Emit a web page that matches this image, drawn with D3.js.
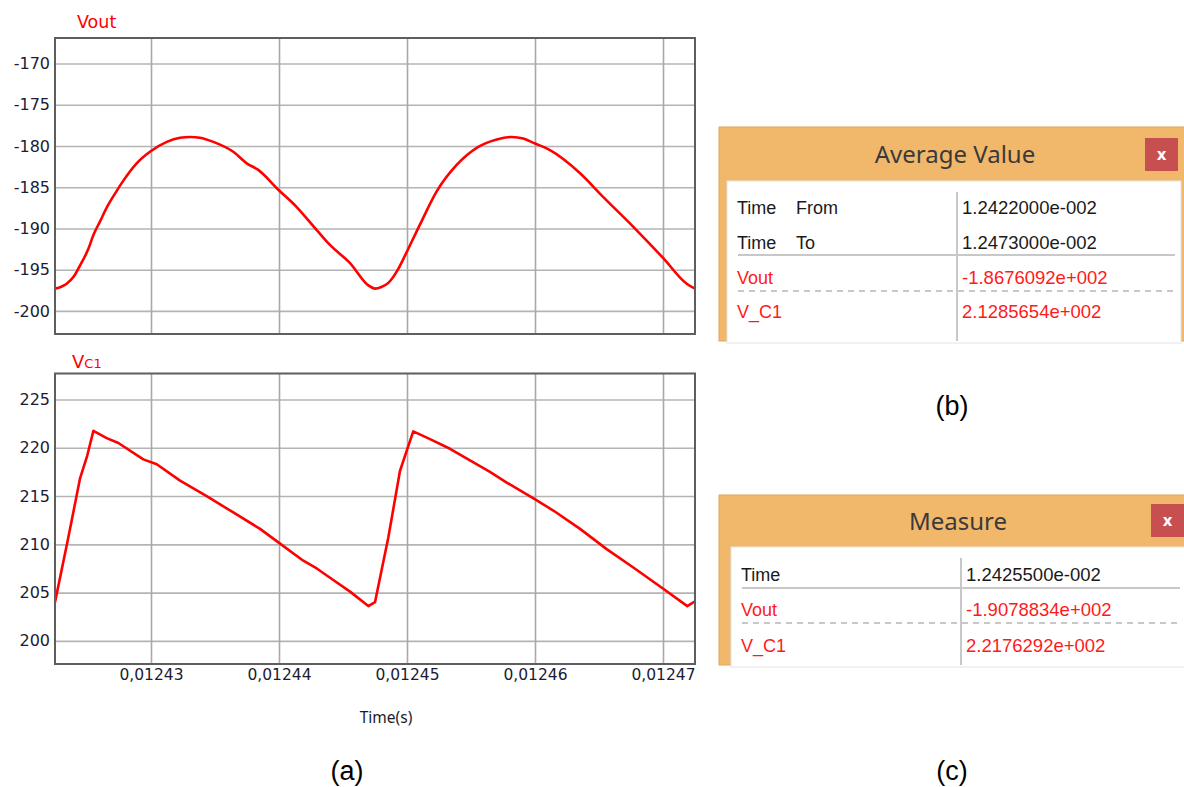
<!DOCTYPE html>
<html>
<head>
<meta charset="utf-8">
<script src="https://cdn.jsdelivr.net/npm/d3@7"></script>
<style>
  html, body { margin: 0; padding: 0; background: #fff; }
  svg { display: block; }
</style>
</head>
<body>
<svg id="chart" width="1184" height="787"></svg>
<script>
// Simulation window (s)
const timeDomain = [0.0124225, 0.0124725];
const timeTicks = [0.01243, 0.01244, 0.01245, 0.01246, 0.01247];

// Output voltage Vout: time (µs) and value (V)
const voutTimeUs = [12422.5, 12423.41, 12423.98, 12424.45, 12425.10, 12425.5, 12426.0, 12426.6, 12427.3, 12427.84,
  12428.88, 12429.92, 12431.23, 12432.27, 12433.05, 12433.83, 12434.87, 12436.43, 12437.48, 12438.38,
  12439.95, 12441.38, 12442.95, 12443.98, 12445.55, 12446.98, 12447.5, 12448.0, 12448.54, 12449.32,
  12449.84, 12451.02, 12452.32, 12453.88, 12455.57, 12457.01, 12458.18, 12459.09, 12460.0, 12461.17,
  12463.52, 12465.34, 12467.68, 12470.02, 12471.85, 12472.5];
const voutValues = [-197.3, -196.7, -195.8, -194.5, -192.5, -190.79, -189.2, -187.3, -185.5, -184.2,
  -182.1, -180.7, -179.5, -179.0, -178.9, -179.0, -179.5, -180.7, -182.1, -182.9,
  -185.3, -187.4, -190.2, -192.0, -194.2, -196.9, -197.3, -197.1, -196.6, -194.9,
  -193.3, -189.5, -185.5, -182.3, -180.1, -179.2, -178.9, -179.1, -179.7, -180.5,
  -183.3, -186.2, -189.8, -193.6, -196.7, -197.3];

// Capacitor voltage V_C1: time (µs) and value (V)
const vc1TimeUs = [12422.5, 12423.54, 12424.45, 12425.02, 12425.5, 12426.54, 12427.45, 12429.40, 12430.45, 12432.27,
  12434.35, 12436.43, 12438.52, 12439.95, 12441.90, 12442.95, 12444.24, 12445.55, 12446.98, 12447.5,
  12448.54, 12449.45, 12449.98, 12450.49, 12451.80, 12453.36, 12454.92, 12456.48, 12457.79, 12459.95,
  12461.43, 12463.52, 12465.60, 12467.68, 12470.02, 12471.90, 12472.5];
const vc1Values = [204.0, 210.7, 216.8, 219.2, 221.76, 221.0, 220.5, 218.8, 218.3, 216.6,
  215.0, 213.3, 211.6, 210.2, 208.3, 207.5, 206.3, 205.1, 203.6, 204.0,
  210.7, 217.6, 219.7, 221.7, 220.9, 219.9, 218.7, 217.5, 216.4, 214.7,
  213.5, 211.6, 209.5, 207.6, 205.4, 203.6, 204.1];

const voutDomain = [-202.8, -166.9];
const voutTicks = [-200, -195, -190, -185, -180, -175, -170];
const vc1Domain = [197.6, 227.7];
const vc1Ticks = [200, 205, 210, 215, 220, 225];

// Read-out tables
const avgLabels = [["Time", "From"], ["Time", "To"], ["Vout", ""], ["V_C1", ""]];
const avgValues = ["1.2422000e-002", "1.2473000e-002", "-1.8676092e+002", "2.1285654e+002"];
const measLabels = ["Time", "Vout", "V_C1"];
const measValues = ["1.2425500e-002", "-1.9078834e+002", "2.2176292e+002"];

const svg = d3.select("#chart");
const RED = "#ff0000";
const left = 55, right = 695;

const x = d3.scaleLinear().domain(timeDomain).range([left, right]);

function drawPanel(cfg) {
  const g = svg.append("g");
  const y = d3.scaleLinear().domain(cfg.domain).range([cfg.bottom, cfg.top]);
  const h = cfg.bottom - cfg.top;
  const clipId = "clip-" + cfg.id;
  svg.append("clipPath").attr("id", clipId)
    .append("rect").attr("x", left).attr("y", cfg.top).attr("width", right - left).attr("height", h);

  // horizontal grid + value labels
  const ya = g.append("g").attr("transform", `translate(${left},0)`)
    .call(d3.axisLeft(y).tickValues(cfg.ticks).tickSize(-(right - left)).tickPadding(5)
      .tickFormat(d => String(d)));
  ya.select(".domain").remove();
  ya.selectAll("line").attr("stroke", "#b4b4b4").attr("stroke-width", 1.6);
  ya.selectAll("text").attr("font-family", "DejaVu Sans, Verdana, sans-serif")
    .attr("font-size", 16).attr("fill", "#1c1c34");

  // vertical grid
  const xa = g.append("g").attr("transform", `translate(0,${cfg.bottom})`)
    .call(d3.axisBottom(x).tickValues(timeTicks).tickSize(-h).tickPadding(5)
      .tickFormat(d => cfg.showTime ? d3.format(".5f")(d).replace(".", ",") : ""));
  xa.select(".domain").remove();
  xa.selectAll("line").attr("stroke", "#a8a8a8").attr("stroke-width", 1.6);
  xa.selectAll("text").attr("font-family", "DejaVu Sans, Verdana, sans-serif")
    .attr("font-size", 15.5).attr("fill", "#1c1c34");

  // trace
  const pts = cfg.t.map((t, i) => [t * 1e-6, cfg.v[i]]);
  g.append("path").datum(pts)
    .attr("clip-path", `url(#${clipId})`)
    .attr("fill", "none").attr("stroke", RED).attr("stroke-width", 2.6)
    .attr("stroke-linejoin", "round")
    .attr("d", d3.line().x(d => x(d[0])).y(d => y(d[1])).curve(cfg.curve));

  // frame
  g.append("rect").attr("x", left).attr("y", cfg.top).attr("width", right - left).attr("height", h)
    .attr("fill", "none").attr("stroke", "#5e5e5e").attr("stroke-width", 2);
  return g;
}

drawPanel({ id: "vout", top: 38, bottom: 334, domain: voutDomain, ticks: voutTicks,
  t: voutTimeUs, v: voutValues, curve: d3.curveMonotoneX, showTime: false });
drawPanel({ id: "vc1", top: 373.5, bottom: 664, domain: vc1Domain, ticks: vc1Ticks,
  t: vc1TimeUs, v: vc1Values, curve: d3.curveLinear, showTime: true });

// trace titles
svg.append("text").attr("x", 77).attr("y", 28).attr("fill", RED)
  .attr("font-family", "DejaVu Sans, Verdana, sans-serif").attr("font-size", 17.5).text("Vout");
const vc = svg.append("text").attr("x", 72).attr("y", 368).attr("fill", RED)
  .attr("font-family", "DejaVu Sans, Verdana, sans-serif").attr("font-size", 18);
vc.append("tspan").text("V");
vc.append("tspan").attr("font-size", 13).text("C1");

svg.append("text").attr("x", 386).attr("y", 723).attr("text-anchor", "middle")
  .attr("font-family", "Noto Sans, sans-serif").attr("font-size", 15.5).attr("fill", "#1a1a2a")
  .text("Time(s)");

// sub-figure captions
const cap = (t, xx, yy) => svg.append("text").attr("x", xx).attr("y", yy).attr("text-anchor", "middle")
  .attr("font-family", "Liberation Sans, Arial, sans-serif").attr("font-size", 27).attr("fill", "#000").text(t);
cap("(a)", 347, 780);
cap("(b)", 952, 415);
cap("(c)", 952, 780);

// read-out windows
function drawWindow(w) {
  const g = svg.append("g");
  g.append("rect").attr("x", w.x0).attr("y", w.y0).attr("width", 1184 - w.x0 + 2).attr("height", w.y1 - w.y0)
    .attr("fill", "#f1b86c").attr("stroke", "#e0a65c").attr("stroke-width", 1);
  g.append("rect").attr("x", w.ix).attr("y", w.iy).attr("width", w.iw).attr("height", w.y1 - w.iy + 2)
    .attr("fill", "#fff").attr("stroke", "#e3e3e3").attr("stroke-width", 1);
  g.append("text").attr("x", w.tx).attr("y", w.ty).attr("text-anchor", "middle")
    .attr("font-family", "Noto Sans, Open Sans, sans-serif").attr("font-size", 24).attr("fill", "#3a3a3a")
    .text(w.title);
  g.append("rect").attr("x", w.bx).attr("y", w.by).attr("width", 33).attr("height", 33).attr("fill", "#c74f4f");
  g.append("text").attr("x", w.bx + 16.5).attr("y", w.by + 21.5).attr("text-anchor", "middle")
    .attr("font-family", "DejaVu Sans, sans-serif").attr("font-weight", "bold").attr("font-size", 15)
    .attr("fill", "#fff").text("x");
  // column separator and row rules
  g.append("line").attr("x1", w.sepX).attr("x2", w.sepX).attr("y1", w.sepY0).attr("y2", w.y1)
    .attr("stroke", "#c8c8c8").attr("stroke-width", 2);
  g.append("line").attr("x1", w.lx).attr("x2", w.lx2).attr("y1", w.solidY).attr("y2", w.solidY)
    .attr("stroke", "#c8c8c8").attr("stroke-width", 2);
  g.append("line").attr("x1", w.lx).attr("x2", w.lx2).attr("y1", w.dashY).attr("y2", w.dashY)
    .attr("stroke", "#c8c8c8").attr("stroke-width", 2).attr("stroke-dasharray", "6,5");
  w.rows.forEach((r, i) => {
    const col = r.red ? "#ff1a1a" : "#1a1a1a";
    const t = g.append("text").attr("y", w.rowY[i]).attr("fill", col)
      .attr("font-family", "Liberation Sans, Arial, sans-serif").attr("font-size", 18);
    t.append("tspan").attr("x", w.lx - 1).text(r.a);
    if (r.b) t.append("tspan").attr("x", w.lx + 58).text(r.b);
    g.append("text").attr("x", w.vx).attr("y", w.rowY[i]).attr("fill", col)
      .attr("font-family", "Liberation Sans, Arial, sans-serif").attr("font-size", 18.5).text(r.v);
  });
}

drawWindow({
  x0: 719, y0: 127, y1: 341, ix: 727, iy: 181, iw: 454,
  title: "Average Value", tx: 955, ty: 163, bx: 1145, by: 138,
  sepX: 957, sepY0: 192, solidY: 255, dashY: 291, lx: 738, lx2: 1175, vx: 962,
  rowY: [214, 249, 284, 318],
  rows: avgLabels.map((l, i) => ({ a: l[0], b: l[1], v: avgValues[i], red: i >= 2 }))
});
drawWindow({
  x0: 719, y0: 495, y1: 665, ix: 731, iy: 547, iw: 456,
  title: "Measure", tx: 958, ty: 530, bx: 1151, by: 504,
  sepX: 961, sepY0: 558, solidY: 588, dashY: 623, lx: 742, lx2: 1180, vx: 966,
  rowY: [581, 616, 652],
  rows: measLabels.map((l, i) => ({ a: l, b: "", v: measValues[i], red: i >= 1 }))
});
</script>
</body>
</html>
